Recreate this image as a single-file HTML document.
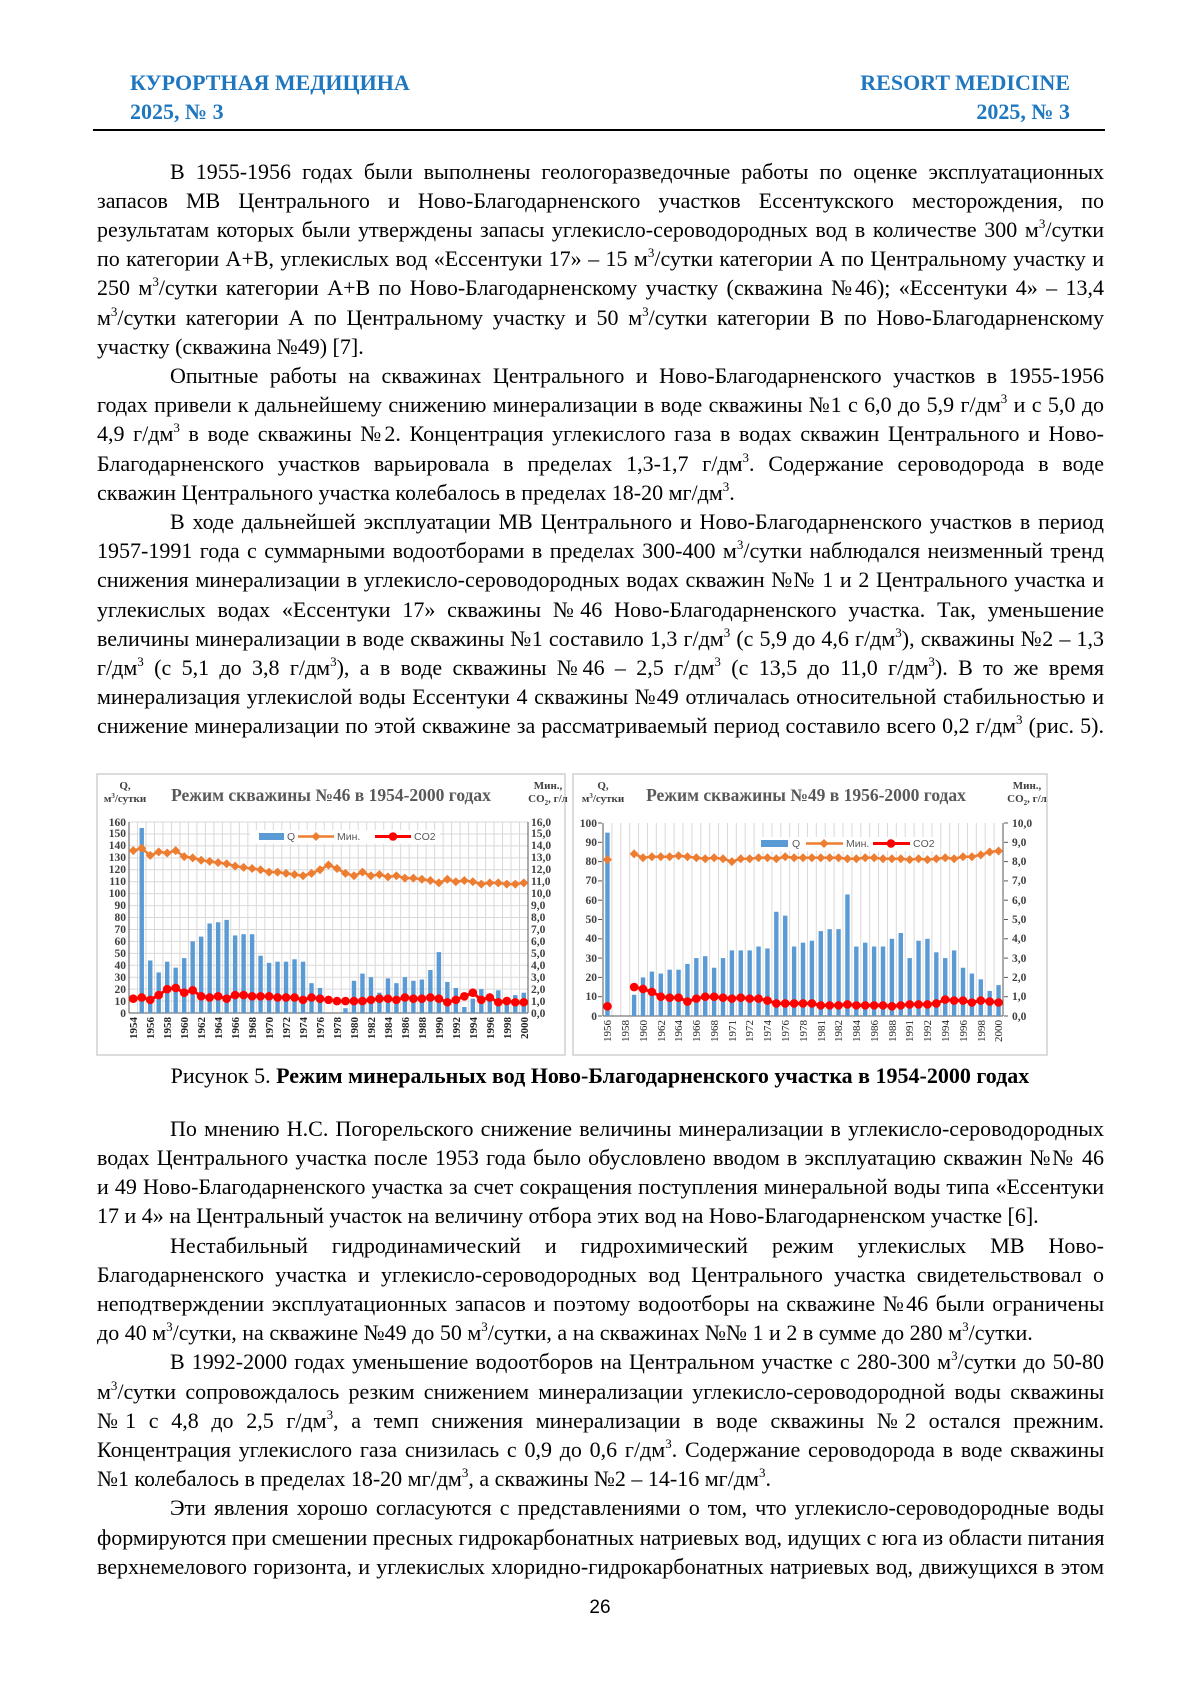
<!DOCTYPE html>
<html><head><meta charset="utf-8">
<style>
html,body{margin:0;padding:0;background:#fff;}
body{width:1200px;height:1697px;position:relative;overflow:hidden;font-family:"Liberation Serif","Noto Serif CJK SC",serif;color:#000;}
.h{position:absolute;font-weight:bold;color:#1f77c0;font-size:22px;font-family:"Liberation Serif",serif;}
.l{position:absolute;left:97px;width:1007px;height:29px;line-height:29px;font-size:22px;white-space:nowrap;text-align:justify;text-align-last:justify;}
.i{left:170px;width:934px;}
.e{text-align:left;text-align-last:left;}
sup{font-size:13px;line-height:0;vertical-align:9px;}
svg{position:absolute;left:0;top:0;}
</style></head><body>
<div class="h" style="left:130px;top:70px;">КУРОРТНАЯ МЕДИЦИНА</div>
<div class="h" style="left:130px;top:99px;">2025, № 3</div>
<div class="h" style="right:130px;top:70px;">RESORT MEDICINE</div>
<div class="h" style="right:130px;top:99px;">2025, № 3</div>
<div style="position:absolute;left:93px;top:129px;width:1012px;height:1.5px;background:#000;"></div>

<div class="l i" style="top:157px">В 1955-1956 годах были выполнены геологоразведочные работы по оценке эксплуатационных</div>
<div class="l" style="top:186px">запасов МВ Центрального и Ново-Благодарненского участков Ессентукского месторождения, по</div>
<div class="l" style="top:215px">результатам которых были утверждены запасы углекисло-сероводородных вод в количестве 300 м<sup>3</sup>/сутки</div>
<div class="l" style="top:244px">по категории А+В, углекислых вод «Ессентуки 17» – 15 м<sup>3</sup>/сутки категории А по Центральному участку и</div>
<div class="l" style="top:273px">250 м<sup>3</sup>/сутки категории А+В по Ново-Благодарненскому участку (скважина №46); «Ессентуки 4» – 13,4</div>
<div class="l" style="top:303px">м<sup>3</sup>/сутки категории А по Центральному участку и 50 м<sup>3</sup>/сутки категории В по Ново-Благодарненскому</div>
<div class="l e" style="top:332px">участку (скважина №49) [7].</div>
<div class="l i" style="top:361px">Опытные работы на скважинах Центрального и Ново-Благодарненского участков в 1955-1956</div>
<div class="l" style="top:390px">годах привели к дальнейшему снижению минерализации в воде скважины №1 с 6,0 до 5,9 г/дм<sup>3</sup> и с 5,0 до</div>
<div class="l" style="top:419px">4,9 г/дм<sup>3</sup> в воде скважины №2. Концентрация углекислого газа в водах скважин Центрального и Ново-</div>
<div class="l" style="top:449px">Благодарненского участков варьировала в пределах 1,3-1,7 г/дм<sup>3</sup>. Содержание сероводорода в воде</div>
<div class="l e" style="top:478px">скважин Центрального участка колебалось в пределах 18-20 мг/дм<sup>3</sup>.</div>
<div class="l i" style="top:507px">В ходе дальнейшей эксплуатации МВ Центрального и Ново-Благодарненского участков в период</div>
<div class="l" style="top:536px">1957-1991 года с суммарными водоотборами в пределах 300-400 м<sup>3</sup>/сутки наблюдался неизменный тренд</div>
<div class="l" style="top:565px">снижения минерализации в углекисло-сероводородных водах скважин №№ 1 и 2 Центрального участка и</div>
<div class="l" style="top:595px">углекислых водах «Ессентуки 17» скважины №46 Ново-Благодарненского участка. Так, уменьшение</div>
<div class="l" style="top:624px">величины минерализации в воде скважины №1 составило 1,3 г/дм<sup>3</sup> (с 5,9 до 4,6 г/дм<sup>3</sup>), скважины №2 – 1,3</div>
<div class="l" style="top:653px">г/дм<sup>3</sup> (с 5,1 до 3,8 г/дм<sup>3</sup>), а в воде скважины №46 – 2,5 г/дм<sup>3</sup> (с 13,5 до 11,0 г/дм<sup>3</sup>). В то же время</div>
<div class="l" style="top:682px">минерализация углекислой воды Ессентуки 4 скважины №49 отличалась относительной стабильностью и</div>
<div class="l" style="top:711px">снижение минерализации по этой скважине за рассматриваемый период составило всего 0,2 г/дм<sup>3</sup> (рис. 5).</div>

<div style="position:absolute;left:0;top:1061px;width:1200px;text-align:center;font-size:22px;line-height:29px;">Рисунок 5. <b>Режим минеральных вод Ново-Благодарненского участка в 1954-2000 годах</b></div>

<div class="l i" style="top:1114px">По мнению Н.С. Погорельского снижение величины минерализации в углекисло-сероводородных</div>
<div class="l" style="top:1143px">водах Центрального участка после 1953 года было обусловлено вводом в эксплуатацию скважин №№ 46</div>
<div class="l" style="top:1172px">и 49 Ново-Благодарненского участка за счет сокращения поступления минеральной воды типа «Ессентуки</div>
<div class="l e" style="top:1201px">17 и 4» на Центральный участок на величину отбора этих вод на Ново-Благодарненском участке [6].</div>
<div class="l i" style="top:1231px">Нестабильный гидродинамический и гидрохимический режим углекислых МВ Ново-</div>
<div class="l" style="top:1260px">Благодарненского участка и углекисло-сероводородных вод Центрального участка свидетельствовал о</div>
<div class="l" style="top:1289px">неподтверждении эксплуатационных запасов и поэтому водоотборы на скважине №46 были ограничены</div>
<div class="l e" style="top:1318px">до 40 м<sup>3</sup>/сутки, на скважине №49 до 50 м<sup>3</sup>/сутки, а на скважинах №№ 1 и 2 в сумме до 280 м<sup>3</sup>/сутки.</div>
<div class="l i" style="top:1347px">В 1992-2000 годах уменьшение водоотборов на Центральном участке с 280-300 м<sup>3</sup>/сутки до 50-80</div>
<div class="l" style="top:1377px">м<sup>3</sup>/сутки сопровождалось резким снижением минерализации углекисло-сероводородной воды скважины</div>
<div class="l" style="top:1406px">№1 с 4,8 до 2,5 г/дм<sup>3</sup>, а темп снижения минерализации в воде скважины №2 остался прежним.</div>
<div class="l" style="top:1435px">Концентрация углекислого газа снизилась с 0,9 до 0,6 г/дм<sup>3</sup>. Содержание сероводорода в воде скважины</div>
<div class="l e" style="top:1464px">№1 колебалось в пределах 18-20 мг/дм<sup>3</sup>, а скважины №2 – 14-16 мг/дм<sup>3</sup>.</div>
<div class="l i" style="top:1493px">Эти явления хорошо согласуются с представлениями о том, что углекисло-сероводородные воды</div>
<div class="l" style="top:1523px">формируются при смешении пресных гидрокарбонатных натриевых вод, идущих с юга из области питания</div>
<div class="l" style="top:1552px">верхнемелового горизонта, и углекислых хлоридно-гидрокарбонатных натриевых вод, движущихся в этом</div>
<div style="position:absolute;left:0;width:1200px;top:1597px;text-align:center;font-size:19px;font-family:'Liberation Sans',sans-serif;">26</div>

<svg width="1200" height="1697" viewBox="0 0 1200 1697" font-family="Liberation Serif, serif">
<rect x="97" y="774" width="468" height="281" fill="#fff" stroke="#d0d0d0" stroke-width="1.5"/>
<rect x="573" y="774" width="474" height="281" fill="#fff" stroke="#d0d0d0" stroke-width="1.5"/>
<g id="c1"></g><g id="c2"></g>
<g font-weight="bold" fill="#595959">
<text x="331" y="801" font-size="17.5" text-anchor="middle">Режим скважины №46 в 1954-2000 годах</text>
<text x="806" y="801" font-size="17.5" text-anchor="middle">Режим скважины №49 в 1956-2000 годах</text>
</g>
<g font-size="11" font-weight="bold" fill="#404040">
<text x="125" y="789" text-anchor="middle">Q,</text>
<text x="125" y="802" text-anchor="middle">м<tspan font-size="7" dy="-4">3</tspan><tspan dy="4">/сутки</tspan></text>
<text x="548" y="789" text-anchor="middle">Мин.,</text>
<text x="548" y="802" text-anchor="middle">CO<tspan font-size="7" dy="3">2</tspan><tspan dy="-3">, г/л</tspan></text>
<text x="603" y="789" text-anchor="middle">Q,</text>
<text x="603" y="802" text-anchor="middle">м<tspan font-size="7" dy="-4">3</tspan><tspan dy="4">/сутки</tspan></text>
<text x="1027" y="789" text-anchor="middle">Мин.,</text>
<text x="1027" y="802" text-anchor="middle">CO<tspan font-size="7" dy="3">2</tspan><tspan dy="-3">, г/л</tspan></text>
</g>
<g font-size="11.5" font-weight="bold" fill="#404040" text-anchor="end">
<text x="126" y="1017">0</text><text x="126" y="1005">10</text><text x="126" y="993">20</text><text x="126" y="981">30</text><text x="126" y="969">40</text><text x="126" y="957">50</text><text x="126" y="945">60</text><text x="126" y="933">70</text><text x="126" y="921">80</text><text x="126" y="909">90</text><text x="126" y="897">100</text><text x="126" y="885">110</text><text x="126" y="873">120</text><text x="126" y="861">130</text><text x="126" y="849">140</text><text x="126" y="837">150</text><text x="126" y="826">160</text>
<text x="597" y="1020">0</text><text x="597" y="1000">10</text><text x="597" y="981">20</text><text x="597" y="962">30</text><text x="597" y="942">40</text><text x="597" y="923">50</text><text x="597" y="904">60</text><text x="597" y="884">70</text><text x="597" y="865">80</text><text x="597" y="846">90</text><text x="597" y="827">100</text>
</g>
<g font-size="11.5" font-weight="bold" fill="#404040">
<text x="531" y="1017">0,0</text><text x="531" y="1005">1,0</text><text x="531" y="993">2,0</text><text x="531" y="981">3,0</text><text x="531" y="969">4,0</text><text x="531" y="957">5,0</text><text x="531" y="945">6,0</text><text x="531" y="933">7,0</text><text x="531" y="921">8,0</text><text x="531" y="909">9,0</text><text x="531" y="897">10,0</text><text x="531" y="885">11,0</text><text x="531" y="873">12,0</text><text x="531" y="861">13,0</text><text x="531" y="849">14,0</text><text x="531" y="837">15,0</text><text x="531" y="826">16,0</text>
<text x="1012" y="1020">0,0</text><text x="1012" y="1000">1,0</text><text x="1012" y="981">2,0</text><text x="1012" y="962">3,0</text><text x="1012" y="942">4,0</text><text x="1012" y="923">5,0</text><text x="1012" y="904">6,0</text><text x="1012" y="884">7,0</text><text x="1012" y="865">8,0</text><text x="1012" y="846">9,0</text><text x="1012" y="827">10,0</text>
</g>
<g font-size="11" font-weight="bold" fill="#262626" text-anchor="end">
<text transform="translate(137,1017) rotate(-90)">1954</text><text transform="translate(154,1017) rotate(-90)">1956</text><text transform="translate(171,1017) rotate(-90)">1958</text><text transform="translate(188,1017) rotate(-90)">1960</text><text transform="translate(205,1017) rotate(-90)">1962</text><text transform="translate(222,1017) rotate(-90)">1964</text><text transform="translate(239,1017) rotate(-90)">1966</text><text transform="translate(256,1017) rotate(-90)">1968</text><text transform="translate(273,1017) rotate(-90)">1970</text><text transform="translate(290,1017) rotate(-90)">1972</text><text transform="translate(307,1017) rotate(-90)">1974</text><text transform="translate(324,1017) rotate(-90)">1976</text><text transform="translate(341,1017) rotate(-90)">1978</text><text transform="translate(358,1017) rotate(-90)">1980</text><text transform="translate(375,1017) rotate(-90)">1982</text><text transform="translate(392,1017) rotate(-90)">1984</text><text transform="translate(409,1017) rotate(-90)">1986</text><text transform="translate(426,1017) rotate(-90)">1988</text><text transform="translate(443,1017) rotate(-90)">1990</text><text transform="translate(460,1017) rotate(-90)">1992</text><text transform="translate(477,1017) rotate(-90)">1994</text><text transform="translate(494,1017) rotate(-90)">1996</text><text transform="translate(511,1017) rotate(-90)">1998</text><text transform="translate(528,1017) rotate(-90)">2000</text>
</g>
<g font-size="11" fill="#262626" text-anchor="end">
<text transform="translate(611,1020) rotate(-90)">1956</text><text transform="translate(629,1020) rotate(-90)">1958</text><text transform="translate(647,1020) rotate(-90)">1960</text><text transform="translate(665,1020) rotate(-90)">1962</text><text transform="translate(682,1020) rotate(-90)">1964</text><text transform="translate(700,1020) rotate(-90)">1966</text><text transform="translate(718,1020) rotate(-90)">1968</text><text transform="translate(736,1020) rotate(-90)">1971</text><text transform="translate(753,1020) rotate(-90)">1972</text><text transform="translate(771,1020) rotate(-90)">1974</text><text transform="translate(789,1020) rotate(-90)">1976</text><text transform="translate(807,1020) rotate(-90)">1978</text><text transform="translate(825,1020) rotate(-90)">1981</text><text transform="translate(842,1020) rotate(-90)">1982</text><text transform="translate(860,1020) rotate(-90)">1984</text><text transform="translate(878,1020) rotate(-90)">1986</text><text transform="translate(896,1020) rotate(-90)">1988</text><text transform="translate(913,1020) rotate(-90)">1991</text><text transform="translate(931,1020) rotate(-90)">1992</text><text transform="translate(949,1020) rotate(-90)">1994</text><text transform="translate(967,1020) rotate(-90)">1996</text><text transform="translate(985,1020) rotate(-90)">1998</text><text transform="translate(1002,1020) rotate(-90)">2000</text>
</g>
<g id="leg"></g>
<g font-size="10.5" fill="#595959" font-family="Liberation Sans, sans-serif">
<text x="287" y="840">Q</text><text x="337" y="840">Мин.</text><text x="414" y="840">CO2</text>
<text x="792" y="847">Q</text><text x="846" y="847">Мин.</text><text x="913" y="847">CO2</text>
</g>
</svg>
<script>
var NS="http://www.w3.org/2000/svg";
function el(p,n,a){var e=document.createElementNS(NS,n);for(var k in a)e.setAttribute(k,a[k]);p.appendChild(e);return e;}
function draw(g,c){
 var n=c.q.length,w=(c.r-c.l)/n;
 if(c.hgrid){for(var v=0;v<=c.qmax;v+=10){var y=c.y0-(c.y0-c.ytop)*v/c.qmax;el(g,"line",{x1:c.l,x2:c.r,y1:y,y2:y,stroke:"#d9d9d9","stroke-width":1});}}
 else{for(var v=0;v<=c.qmax;v+=10){var y=c.y0-(c.y0-c.ytop)*v/c.qmax;el(g,"line",{x1:c.l-5,x2:c.l-1,y1:y,y2:y,stroke:"#595959"});el(g,"line",{x1:c.r+1,x2:c.r+5,y1:y,y2:y,stroke:"#595959"});}}
 for(var i=0;i<=n;i++){var x=c.l+i*w;el(g,"line",{x1:x,x2:x,y1:c.ytop,y2:c.y0,stroke:"#d9d9d9","stroke-width":1});}
 el(g,"line",{x1:c.l,x2:c.l,y1:c.ytop,y2:c.y0,stroke:"#595959"});
 el(g,"line",{x1:c.r,x2:c.r,y1:c.ytop,y2:c.y0,stroke:"#595959"});
 el(g,"line",{x1:c.l,x2:c.r,y1:c.y0,y2:c.y0,stroke:"#595959"});
 var s=(c.y0-c.ytop)/c.qmax;
 for(var i=0;i<n;i++){if(c.q[i]>0){var h=c.q[i]*s;el(g,"rect",{x:c.l+(i+0.5)*w-2.2,y:c.y0-h,width:4.4,height:h,fill:"#5b9bd5"});}}
 function line(d,col,lw,mk){var pts=[],seg=[];for(var i=0;i<n;i++){if(d[i]==null){if(seg.length)pts.push(seg);seg=[];continue;}seg.push([c.l+(i+0.5)*w,c.y0-d[i]*10*s]);}if(seg.length)pts.push(seg);
  pts.forEach(function(sg){el(g,"polyline",{points:sg.map(function(p){return p.join(",")}).join(" "),fill:"none",stroke:col,"stroke-width":lw});
   sg.forEach(function(p){if(mk=="d")el(g,"polygon",{points:(p[0])+","+(p[1]-4.5)+" "+(p[0]+4.5)+","+p[1]+" "+p[0]+","+(p[1]+4.5)+" "+(p[0]-4.5)+","+p[1],fill:col});else el(g,"circle",{cx:p[0],cy:p[1],r:4.3,fill:col});});});}
 line(c.m,"#ed7d31",2.5,"d");line(c.c,"#ff0000",3,"c");
}
draw(document.getElementById("c1"),{l:129,r:528,ytop:822,y0:1013,qmax:160,hgrid:true,
q:[0,155,44,34,43,38,46,60,64,75,76,78,65,66,66,48,42,43,43,45,43,25,21,0,0,4,27,33,30,17,29,25,30,27,28,36,51,26,21,5,12,20,16,19,10,15,17],
m:[13.6,13.8,13.2,13.5,13.4,13.6,13.1,13.0,12.8,12.7,12.6,12.5,12.3,12.2,12.1,12.0,11.8,11.8,11.7,11.6,11.5,11.7,12.0,12.4,12.1,11.7,11.5,11.8,11.5,11.6,11.4,11.5,11.3,11.3,11.2,11.1,10.9,11.2,11.0,11.1,11.0,10.8,10.9,10.9,10.8,10.8,10.9],
c:[1.2,1.3,1.1,1.5,2.0,2.1,1.7,1.9,1.4,1.3,1.4,1.2,1.5,1.5,1.4,1.4,1.4,1.3,1.3,1.3,1.1,1.3,1.2,1.1,1.0,1.0,1.0,1.0,1.1,1.2,1.2,1.1,1.3,1.2,1.2,1.3,1.2,0.9,1.1,1.4,1.7,1.1,1.3,0.9,1.0,0.9,0.9]});
draw(document.getElementById("c2"),{l:603,r:1003,ytop:823,y0:1016,qmax:100,hgrid:false,
q:[95,0,0,11,20,23,22,24,24,27,30,31,25,30,34,34,34,36,35,54,52,36,38,39,44,45,45,63,36,38,36,36,40,43,30,39,40,33,30,34,25,22,19,13,16],
m:[8.1,null,null,8.4,8.2,8.25,8.25,8.25,8.3,8.25,8.2,8.15,8.2,8.15,8.0,8.15,8.15,8.2,8.2,8.15,8.25,8.2,8.2,8.2,8.2,8.2,8.2,8.15,8.15,8.2,8.2,8.15,8.15,8.15,8.1,8.15,8.1,8.15,8.2,8.15,8.25,8.25,8.35,8.5,8.55],
c:[0.5,null,null,1.5,1.4,1.25,1.0,0.95,0.95,0.75,0.9,1.0,1.0,0.95,0.9,0.95,0.9,0.9,0.8,0.65,0.65,0.65,0.65,0.65,0.55,0.55,0.55,0.6,0.55,0.55,0.55,0.55,0.5,0.55,0.6,0.6,0.6,0.65,0.85,0.8,0.8,0.7,0.8,0.75,0.7]});
var lg=document.getElementById("leg");
el(lg,"rect",{x:250,y:830,width:190,height:14,fill:"#fff"});
el(lg,"rect",{x:259,y:833,width:25,height:7,fill:"#5b9bd5"});
el(lg,"line",{x1:298,x2:334,y1:836.5,y2:836.5,stroke:"#ed7d31","stroke-width":2.5});
el(lg,"polygon",{points:"316,832 320.5,836.5 316,841 311.5,836.5",fill:"#ed7d31"});
el(lg,"line",{x1:375,x2:411,y1:836.5,y2:836.5,stroke:"#ff0000","stroke-width":3});
el(lg,"circle",{cx:393,cy:836.5,r:4.3,fill:"#ff0000"});
el(lg,"rect",{x:755,y:837,width:185,height:14,fill:"#fff"});
el(lg,"rect",{x:761,y:840,width:27,height:7,fill:"#5b9bd5"});
el(lg,"line",{x1:806,x2:843,y1:843.5,y2:843.5,stroke:"#ed7d31","stroke-width":2.5});
el(lg,"polygon",{points:"824,839 828.5,843.5 824,848 819.5,843.5",fill:"#ed7d31"});
el(lg,"line",{x1:873,x2:910,y1:843.5,y2:843.5,stroke:"#ff0000","stroke-width":3});
el(lg,"circle",{cx:891,cy:843.5,r:4.3,fill:"#ff0000"});
</script>
</body></html>
